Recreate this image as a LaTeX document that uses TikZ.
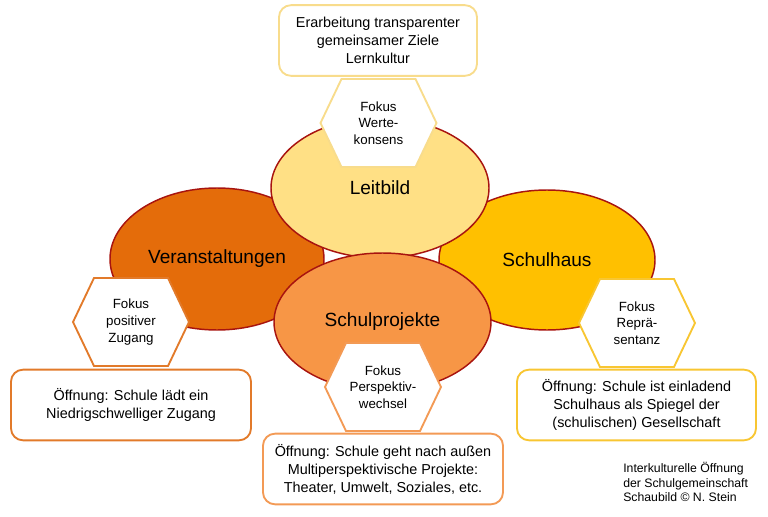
\documentclass[tikz,border=0pt]{standalone}
\usepackage{fontspec}
\setmainfont{Liberation Sans}
\usetikzlibrary{shapes.geometric}
\definecolor{ellred}{HTML}{A8140F}
\definecolor{cLeit}{HTML}{FFE085}
\definecolor{cVer}{HTML}{E46C0A}
\definecolor{cHaus}{HTML}{FFC000}
\definecolor{cProj}{HTML}{F79646}
\definecolor{bLeit}{HTML}{F8DC8C}
\definecolor{bVer}{HTML}{E27A2A}
\definecolor{bHaus}{HTML}{F8C632}
\definecolor{bProj}{HTML}{F39A55}
\begin{document}
\begin{tikzpicture}[x=0.75pt,y=-0.75pt,
  ell/.style={ellipse, draw=ellred, line width=1.1pt, inner sep=0pt,
    font=\fontsize{14.3}{17}\selectfont},
  hexa/.style={fill=white, line width=1.4pt, line join=miter},
  hextext/.style={align=center, inner sep=0pt, font=\fontsize{10}{12.5}\selectfont},
  infobox/.style={draw, fill=white, rounded corners=9pt, line width=1.4pt,
    align=center, inner sep=0pt, minimum width=180pt, minimum height=53pt,
    font=\fontsize{10.8}{13.5}\selectfont},
  captxt/.style={align=left, anchor=west, inner sep=0pt,
    font=\fontsize{9.2}{11}\selectfont}]
\useasboundingbox (0,0) rectangle (768,517);

% ellipses
\node[ell, fill=cVer, minimum width=160.5pt, minimum height=106.5pt] (ver) at (217,259) {Veranstaltungen};
\node[ell, fill=cHaus, minimum width=162pt, minimum height=105pt] (haus) at (547,260) {Schulhaus};
\node[ell, fill=cLeit, minimum width=163.5pt, minimum height=105pt] (leit) at (380,188) {Leitbild};
\node[ell, fill=cProj, minimum width=162.75pt, minimum height=103.5pt] (proj) at (382.5,322) {Schulprojekte};

% hexagon centres
\coordinate (ht) at (378.5,123);
\coordinate (hl) at (131,322);
\coordinate (hr) at (637,323);
\coordinate (hb) at (383,387);

\draw[hexa, draw=bLeit, shift={(ht)}] (-58,0) -- (-37,-44) -- (37,-44) -- (58,0) -- (37,44) -- (-37,44) -- cycle;
\draw[hexa, draw=bVer, shift={(hl)}] (-58,0) -- (-37,-44) -- (37,-44) -- (58,0) -- (37,44) -- (-37,44) -- cycle;
\draw[hexa, draw=bHaus, shift={(hr)}] (-58,0) -- (-37,-44) -- (37,-44) -- (58,0) -- (37,44) -- (-37,44) -- cycle;
\draw[hexa, draw=bProj, shift={(hb)}] (-58,0) -- (-37,-44) -- (37,-44) -- (58,0) -- (37,44) -- (-37,44) -- cycle;

\node[hextext] (tt) at (ht) {Fokus\\Werte-\\konsens};
\node[hextext] (tl) at (hl) {Fokus\\positiver\\Zugang};
\node[hextext] (tr) at (hr) {Fokus\\Reprä-\\sentanz};
\node[hextext] (tb) at (hb) {Fokus\\Perspektiv-\\wechsel};

% boxes
\node[infobox, draw=bLeit, minimum width=148.5pt] (btop) at (378,40.5)
  {Erarbeitung transparenter\\gemeinsamer Ziele\\Lernkultur};
\node[infobox, draw=bVer] (bleft) at (131,405)
  {Öffnung: Schule lädt ein\\Niedrigschwelliger Zugang};
\node[infobox, draw=bHaus, minimum width=179.25pt] (bright) at (636.5,405)
  {Öffnung: Schule ist einladend\\Schulhaus als Spiegel der\\(schulischen) Gesellschaft};
\node[infobox, draw=bProj] (bbot) at (383,469)
  {Öffnung: Schule geht nach außen\\Multiperspektivische Projekte:\\Theater, Umwelt, Soziales, etc.};

% caption
\node[captxt] (cap) at (623,482)
  {Interkulturelle Öffnung\\der Schulgemeinschaft\\Schaubild © N. Stein};
\end{tikzpicture}
\end{document}
